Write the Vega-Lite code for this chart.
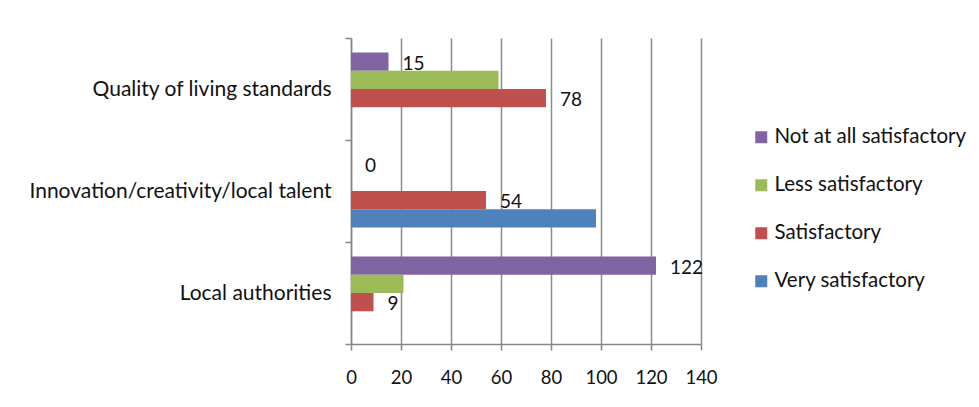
{
  "$schema": "https://vega.github.io/schema/vega-lite/v6.json",
  "width": 350,
  "height": 306,
  "autosize": {"type": "none"},
  "padding": {"left": 351, "top": 38, "right": 278, "bottom": 63},
  "background": "white",
  "config": {"font": "Lato", "view": {"stroke": null}},
  "data": {
    "values": [
      {"category": "Quality of living standards", "series": "Not at all satisfactory", "value": 15},
      {"category": "Quality of living standards", "series": "Less satisfactory", "value": 59},
      {"category": "Quality of living standards", "series": "Satisfactory", "value": 78},
      {"category": "Quality of living standards", "series": "Very satisfactory", "value": 0},
      {"category": "Innovation/creativity/local talent", "series": "Not at all satisfactory", "value": 0},
      {"category": "Innovation/creativity/local talent", "series": "Less satisfactory", "value": 0},
      {"category": "Innovation/creativity/local talent", "series": "Satisfactory", "value": 54},
      {"category": "Innovation/creativity/local talent", "series": "Very satisfactory", "value": 98},
      {"category": "Local authorities", "series": "Not at all satisfactory", "value": 122},
      {"category": "Local authorities", "series": "Less satisfactory", "value": 21},
      {"category": "Local authorities", "series": "Satisfactory", "value": 9},
      {"category": "Local authorities", "series": "Very satisfactory", "value": 0}
    ]
  },
  "encoding": {
    "y": {
      "field": "category",
      "type": "nominal",
      "sort": ["Quality of living standards", "Innovation/creativity/local talent", "Local authorities"],
      "scale": {"paddingInner": 0, "paddingOuter": 0},
      "axis": {
        "title": null,
        "domainColor": "#868686",
        "domainWidth": 1.5,
        "tickColor": "#868686",
        "tickWidth": 1.5,
        "tickSize": 6,
        "tickBand": "extent",
        "labelFontSize": 21,
        "labelPadding": 14,
        "labelLimit": 0,
        "labelColor": "#111111",
        "grid": false
      }
    },
    "yOffset": {
      "field": "series",
      "type": "nominal",
      "sort": ["Not at all satisfactory", "Less satisfactory", "Satisfactory", "Very satisfactory"],
      "scale": {"paddingInner": 0, "paddingOuter": 0.79}
    }
  },
  "layer": [
    {
      "mark": {"type": "bar"},
      "encoding": {
        "x": {
          "field": "value",
          "type": "quantitative",
          "scale": {"domain": [0, 140]},
          "axis": {
            "title": null,
            "values": [0, 20, 40, 60, 80, 100, 120, 140],
            "grid": true,
            "gridColor": "#8c8c8c",
            "gridWidth": 1.5,
            "domainColor": "#868686",
            "domainWidth": 1.5,
            "tickColor": "#868686",
            "tickWidth": 1.5,
            "tickSize": 6,
            "labelFontSize": 18.5,
            "labelPadding": 18,
            "labelFlush": false,
            "labelOverlap": false,
            "labelColor": "#111111"
          }
        },
        "color": {
          "field": "series",
          "type": "nominal",
          "scale": {
            "domain": ["Not at all satisfactory", "Less satisfactory", "Satisfactory", "Very satisfactory"],
            "range": ["#8064A2", "#9BBB59", "#C0504D", "#4F81BD"]
          },
          "legend": {
            "title": null,
            "orient": "none",
            "legendX": 400,
            "legendY": 89,
            "symbolType": "square",
            "symbolSize": 144,
            "symbolStrokeWidth": 0,
            "labelFontSize": 20.5,
            "labelLimit": 0,
            "labelColor": "#111111",
            "labelOffset": 3,
            "rowPadding": 27
          }
        }
      }
    },
    {
      "transform": [{"filter": "datum.series === 'Not at all satisfactory' || datum.series === 'Satisfactory'"}],
      "mark": {"type": "text", "align": "left", "baseline": "middle", "dx": 14, "dy": 2, "fontSize": 19, "color": "#111111"},
      "encoding": {
        "x": {"field": "value", "type": "quantitative"},
        "text": {"field": "value", "type": "quantitative"}
      }
    }
  ]
}
